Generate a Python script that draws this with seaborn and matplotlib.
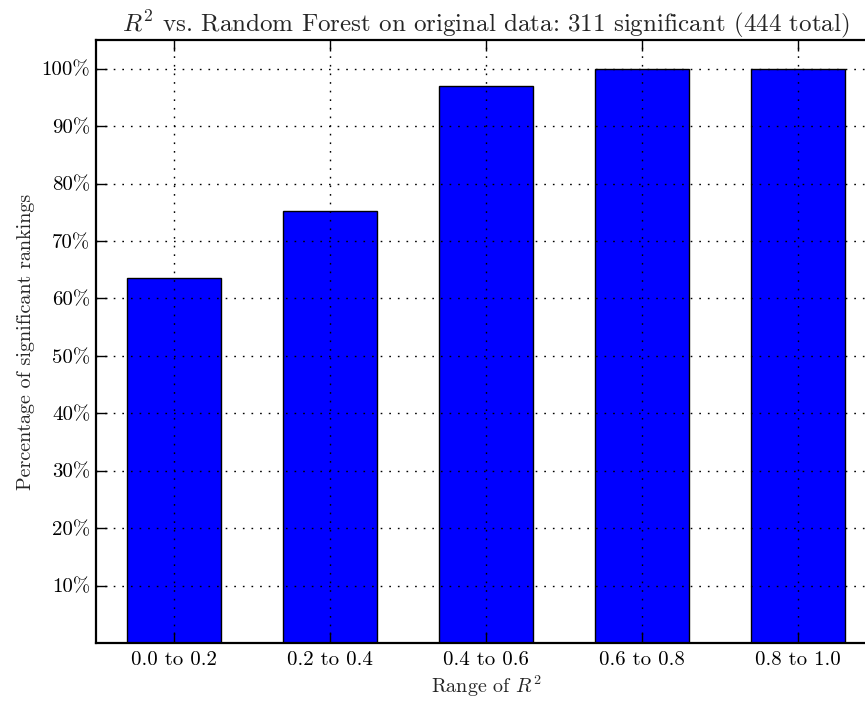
import matplotlib
matplotlib.use("Agg")
import matplotlib.pyplot as plt
import seaborn as sns
import pandas as pd

categories = ["0.0 to 0.2", "0.2 to 0.4", "0.4 to 0.6", "0.6 to 0.8", "0.8 to 1.0"]
percent_significant = [63.5, 75.2, 97.0, 100.0, 100.0]
ytick_values = [10, 20, 30, 40, 50, 60, 70, 80, 90, 100]
ytick_labels = ["10%", "20%", "30%", "40%", "50%", "60%", "70%", "80%", "90%", "100%"]
title = r"$R^2$ vs. Random Forest on original data: 311 significant (444 total)"
xlabel = r"Range of $R^2$"
ylabel = "Percentage of significant rankings"

sns.set_style("ticks")
plt.rcParams["font.family"] = "serif"
plt.rcParams["font.serif"] = ["cmr10", "DejaVu Serif"]
plt.rcParams["mathtext.fontset"] = "cm"
plt.rcParams["axes.formatter.use_mathtext"] = True

df = pd.DataFrame({"range": categories, "pct": percent_significant})

fig = plt.figure(figsize=(8.65, 7.02), dpi=100)
W, H = 865, 702
left_px, right_px, top_px, bottom_px = 96, 876, 40, 643
ax = fig.add_axes([left_px / W, (H - bottom_px) / H, (right_px - left_px) / W, (bottom_px - top_px) / H])

sns.barplot(data=df, x="range", y="pct", order=categories, color="#0000ff",
            saturation=1, width=0.6, edgecolor="black", linewidth=1.0, ax=ax, zorder=1)

ax.set_xlim(-0.5, len(categories) - 0.5)
ax.set_ylim(0, 105)
ax.set_yticks(ytick_values)
ax.set_yticklabels(ytick_labels)

ax.grid(True, color="black", linestyle=(0, (1.2, 5)), linewidth=1.0, zorder=3)
ax.set_axisbelow(False)
for spine in ax.spines.values():
    spine.set_linewidth(1.6)
    spine.set_color("black")
ax.tick_params(axis="both", direction="in", length=8, width=1, labelsize=15,
               top=True, right=False, colors="black")
ax.tick_params(axis="x", pad=6)
ax.tick_params(axis="y", pad=4)

ax.set_title(title, fontsize=18, pad=6)
ax.set_xlabel(xlabel, fontsize=14.5, labelpad=3)
ax.set_ylabel(ylabel, fontsize=14.5, labelpad=5)

fig.savefig("out.png", dpi=100)
